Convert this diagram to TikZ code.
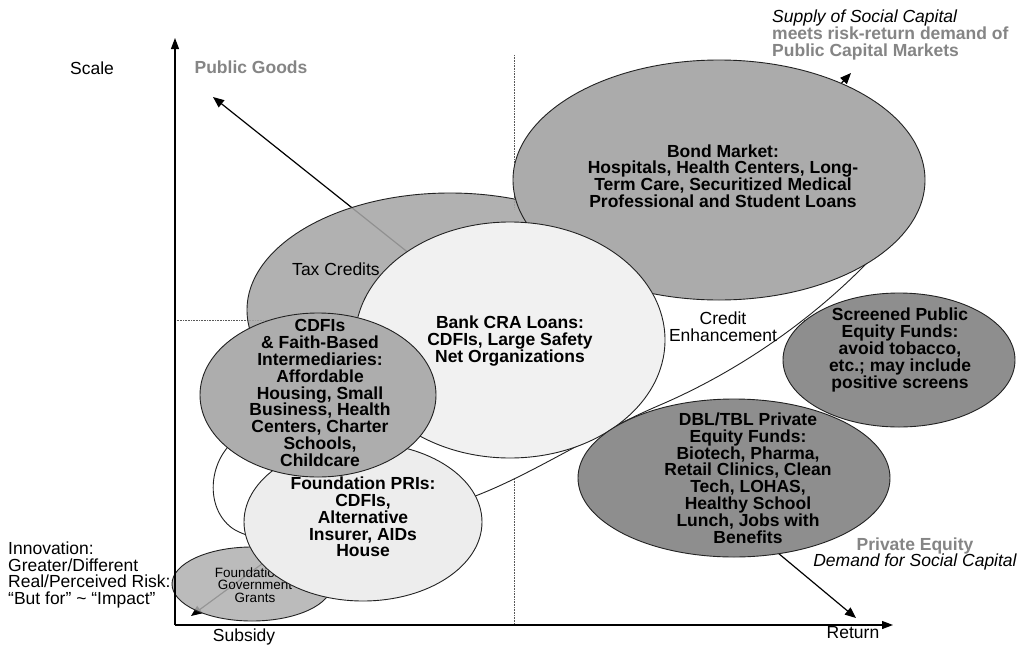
\documentclass[tikz,border=0pt]{standalone}
\usepackage{fontspec}
\setmainfont{Liberation Sans}
\usetikzlibrary{shapes.geometric,arrows.meta}
\definecolor{taxgray}{HTML}{A6A6A6}
\definecolor{bondgray}{HTML}{ABABAB}
\definecolor{cdfigray}{HTML}{ADADAD}
\definecolor{grantgray}{HTML}{B0B0B0}
\definecolor{bankfill}{HTML}{F1F1F1}
\definecolor{prifill}{HTML}{EDEDED}
\definecolor{darkfill}{HTML}{8E8E8E}
\definecolor{graytext}{HTML}{858585}
\definecolor{outline}{HTML}{222222}
\begin{document}
\begin{tikzpicture}[x=1pt,y=-1pt,
  blob/.style={ellipse, draw=outline, line width=0.9pt, inner sep=0pt},
  lbl/.style={font=\fontsize{17.5}{16.8}\selectfont, align=center, inner sep=0pt},
  blbl/.style={lbl, font=\fontsize{17.5}{16.8}\selectfont\bfseries},
  arr/.style={line width=1.2pt, -{Triangle[length=11pt,width=9pt]}},
  axisline/.style={line width=1.1pt, -{Triangle[length=11pt,width=8pt]}},
  dotline/.style={densely dotted, line width=0.6pt, black!65}]
\useasboundingbox (0,0) rectangle (1028,648);
\fill[white] (0,0) rectangle (1028,648);

% axes and guide lines
\coordinate (O) at (175,625);
\coordinate (ytip) at (175,38);
\coordinate (xtip) at (893,625);
\coordinate (dvtop) at (514,55);
\coordinate (dvbot) at (514,625);
\coordinate (dhl) at (175,320);
\coordinate (dhr) at (845,320);
\draw[dotline] (dvtop) -- (dvbot);
\draw[dotline] (dhl) -- (dhr);

% arrows (partly hidden)
\coordinate (pgS) at (420,262);
\coordinate (pgE) at (213,97);
\draw[arr] (pgS) -- (pgE);
\coordinate (spS) at (760,170);
\coordinate (spE) at (851,73);
\draw[arr] (spS) -- (spE);
\coordinate (grS) at (300,536);
\coordinate (grE) at (191,616);
\draw[arr] (grS) -- (grE);
\coordinate (peS) at (700,488);
\coordinate (peE) at (856,618);
\draw[arr] (peS) -- (peE);

% credit enhancement envelope (filled; only its visible rim is stroked)
\fill[white]
  (862,268) .. controls (802,328) and (730,375) .. (660,405)
  .. controls (590,435) and (530,476) .. (470,498)
  .. controls (380,560) and (260,548) .. (232,528)
  .. controls (205,508) and (208,462) .. (235,440)
  -- (300,330) -- (420,250) -- (560,190) -- (850,110)
  .. controls (880,160) and (880,235) .. (862,268) -- cycle;
\draw[draw=outline, line width=0.9pt]
  (870,260) -- (862,268) .. controls (802,328) and (730,375) .. (660,405)
  .. controls (590,435) and (530,476) .. (470,498)
  .. controls (380,560) and (260,548) .. (232,528)
  .. controls (205,508) and (208,462) .. (235,440) -- (245,424);
\node[lbl] (credit) at (723,327) {Credit\\Enhancement};

% tax credits
\node[blob, fill=taxgray, fill opacity=0.87, minimum width=406pt, minimum height=234pt] (tax) at (450,310) {};
\node[lbl] (taxt) at (336,269) {Tax Credits};

% bond market
\node[blob, fill=bondgray, minimum width=412pt, minimum height=240pt] (bond) at (719,180) {};
\node[blbl] (bondt) at (723,176) {Bond Market:\\Hospitals, Health Centers, Long-\\Term Care, Securitized Medical\\Professional and Student Loans};

% bank CRA
\node[blob, fill=bankfill, minimum width=310pt, minimum height=236pt] (bank) at (510,340) {};
\node[blbl] (bankt) at (510,341) {Bank CRA Loans:\\CDFIs, Large Safety\\Net Organizations};

% grants
\node[blob, fill=grantgray, fill opacity=0.85, minimum width=160pt, minimum height=74pt] (grant) at (252,584) {};
\node[lbl, font=\fontsize{13.5}{12.5}\selectfont] (grantt) at (255,585) {Foundation \&\\Government\\Grants};

% foundation PRIs
\node[blob, fill=prifill, minimum width=238pt, minimum height=158pt] (pri) at (363,522) {};
\node[blbl] (prit) at (363,517) {Foundation PRIs:\\CDFIs,\\Alternative\\Insurer, AIDs\\House};

% CDFIs
\node[blob, fill=cdfigray, minimum width=236pt, minimum height=164pt] (cdfi) at (318,395) {};
\node[blbl] (cdfit) at (320,393) {CDFIs\\\& Faith-Based\\Intermediaries:\\Affordable\\Housing, Small\\Business, Health\\Centers, Charter\\Schools,\\Childcare};

% screened public equity
\node[blob, fill=darkfill, minimum width=232pt, minimum height=134pt] (scr) at (899,360) {};
\node[blbl] (scrt) at (900,350) {Screened Public\\Equity Funds:\\avoid tobacco,\\etc.; may include\\positive screens};

% DBL/TBL
\node[blob, fill=darkfill, minimum width=312pt, minimum height=158pt] (dbl) at (734,478) {};
\node[blbl] (dblt) at (748,478) {DBL/TBL Private\\Equity Funds:\\Biotech, Pharma,\\Retail Clinics, Clean\\Tech, LOHAS,\\Healthy School\\Lunch, Jobs with\\Benefits};

% axes on top
\draw[axisline] (O) -- (ytip);
\draw[axisline] (O) -- (xtip);

% free labels
\node[lbl] (scale) at (92,68) {Scale};
\node[lbl] (subsidy) at (244,637) {Subsidy};
\node[lbl] (return) at (853,633) {Return};
\node[blbl, text=graytext] (pubgoods) at (251,67) {Public Goods};
\node[lbl, align=left, anchor=west] (supply) at (772,35)
  {{\itshape Supply of Social Capital}\\{\color{graytext}\bfseries meets risk-return demand of}\\{\color{graytext}\bfseries Public Capital Markets}};
\node[lbl] (privq) at (915,554)
  {{\color{graytext}\bfseries Private Equity}\\{\itshape Demand for Social Capital}};
\node[lbl, align=left, anchor=west] (innov) at (8,575)
  {Innovation:\\Greater/Different\\Real/Perceived Risk:\\“But for” \textasciitilde{} “Impact”};
\end{tikzpicture}
\end{document}
